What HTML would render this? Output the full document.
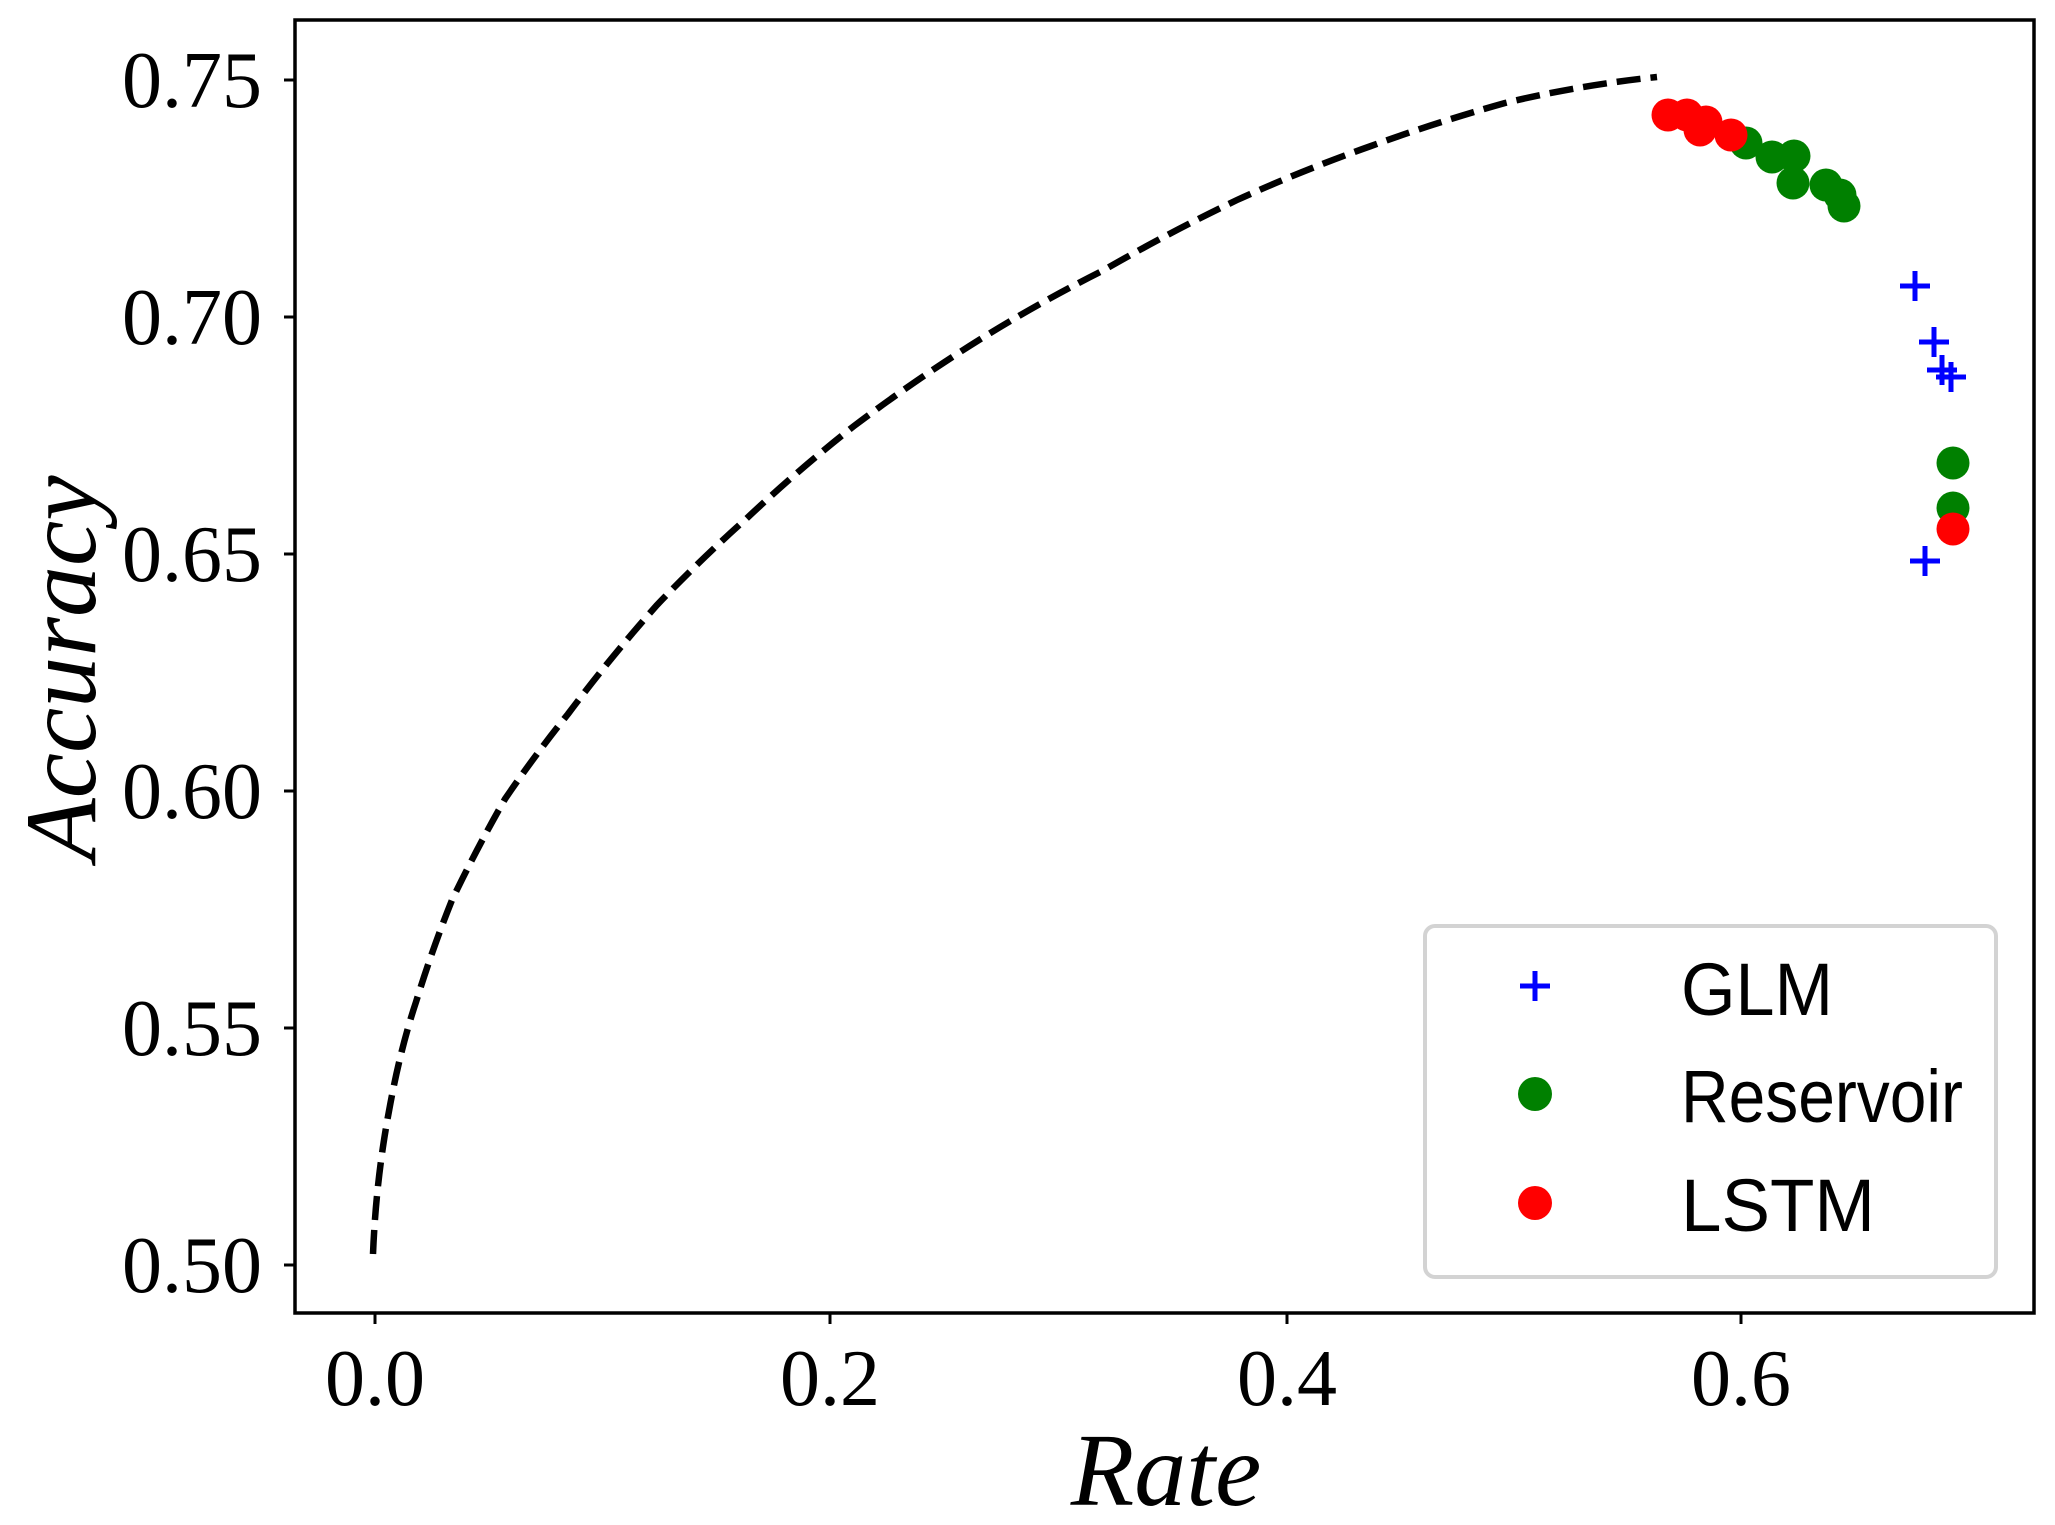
<!DOCTYPE html>
<html><head><style>body{margin:0;background:#fff}svg{display:block}</style></head><body>
<svg width="2055" height="1525" viewBox="0 0 2055 1525" xmlns="http://www.w3.org/2000/svg">
<rect width="2055" height="1525" fill="#fff"/>
<path d="M373,1254 Q376,1180 389,1111 Q400,1050 416,1002 Q432,950 452,900 Q477,848 505,799 Q535,755 568,714 Q610,658 657,605 Q700,560 746,519 Q798,470 854,426 Q915,380 979,340 Q1040,302 1104,270 Q1170,232 1237,200 Q1303,170 1371,146 Q1437,122 1505,103 Q1580,85 1657,77" fill="none" stroke="#000" stroke-width="6.5" stroke-dasharray="24,10"/>
<g fill="#008000">
<circle cx="1746" cy="143" r="16.5"/><circle cx="1772" cy="157" r="16.5"/><circle cx="1794" cy="156" r="16.5"/><circle cx="1793" cy="183" r="16.5"/><circle cx="1826" cy="185" r="16.5"/><circle cx="1840" cy="195" r="16.5"/><circle cx="1844" cy="206" r="16.5"/><circle cx="1953" cy="463" r="16.5"/><circle cx="1953" cy="508" r="16.5"/>
</g>
<g fill="#ff0000">
<circle cx="1668" cy="115" r="16.5"/><circle cx="1687" cy="115" r="16.5"/><circle cx="1706" cy="122" r="16.5"/><circle cx="1700" cy="130" r="16.5"/><circle cx="1731" cy="135" r="16.5"/><circle cx="1953" cy="529" r="16.5"/>
</g>
<g stroke="#0000ff" stroke-width="5">
<path d="M1900,286h30M1915,271v30"/><path d="M1919,342h30M1934,327v30"/><path d="M1927,370h30M1942,355v30"/><path d="M1936,377h30M1951,362v30"/><path d="M1910,561h30M1925,546v30"/>
</g>
<rect x="1425" y="926" width="571" height="351" rx="10" fill="#fff" stroke="#d3d3d3" stroke-width="4"/>
<path d="M1520,986h30M1535,971v30" stroke="#0000ff" stroke-width="5"/>
<circle cx="1535" cy="1094" r="17" fill="#008000"/>
<circle cx="1535" cy="1203" r="17" fill="#ff0000"/>
<g font-family="'Liberation Sans',sans-serif" font-size="74" fill="#000" lengthAdjust="spacingAndGlyphs">
<text x="1681" y="1015" textLength="152" lengthAdjust="spacingAndGlyphs">GLM</text><text x="1681" y="1122" textLength="282" lengthAdjust="spacingAndGlyphs">Reservoir</text><text x="1681" y="1231" textLength="194" lengthAdjust="spacingAndGlyphs">LSTM</text>
</g>
<rect x="295" y="20" width="1739" height="1293" fill="none" stroke="#000" stroke-width="3.5"/>
<g stroke="#000" stroke-width="3">
<path d="M295,80h-11M295,317h-11M295,554h-11M295,791h-11M295,1028h-11M295,1265h-11"/>
<path d="M375,1313v11M830,1313v11M1287,1313v11M1741,1313v11"/>
</g>
<g font-family="'Liberation Serif',serif" font-size="80" fill="#000" text-anchor="end">
<text x="262" y="107">0.75</text><text x="262" y="344">0.70</text><text x="262" y="581">0.65</text><text x="262" y="818">0.60</text><text x="262" y="1055">0.55</text><text x="262" y="1292">0.50</text>
</g>
<g font-family="'Liberation Serif',serif" font-size="80" fill="#000" text-anchor="middle">
<text x="375" y="1405">0.0</text><text x="830" y="1405">0.2</text><text x="1287" y="1405">0.4</text><text x="1741" y="1405">0.6</text>
</g>
<text x="1166" y="1505" font-family="'Liberation Serif',serif" font-style="italic" font-size="104" text-anchor="middle">Rate</text>
<text transform="translate(95,668) rotate(-90)" font-family="'Liberation Serif',serif" font-style="italic" font-size="102" text-anchor="middle">Accuracy</text>
</svg>
</body></html>
